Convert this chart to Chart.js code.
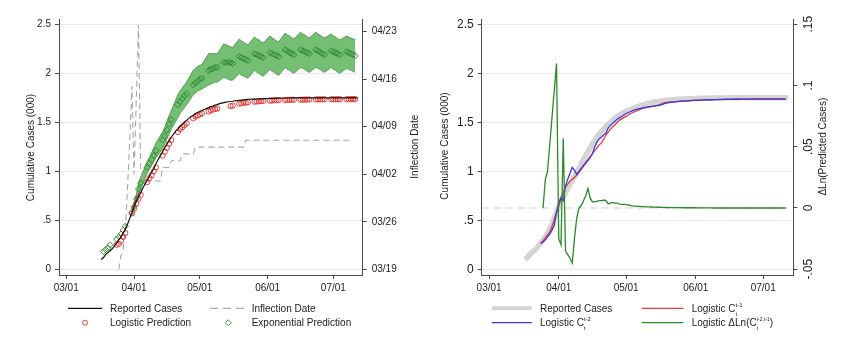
<!DOCTYPE html>
<html>
<head>
<meta charset="utf-8">
<script src="https://cdn.jsdelivr.net/npm/chart.js@4.4.1/dist/chart.umd.min.js"></script>
<style>
html, body { margin: 0; padding: 0; background: #fff; }
body { width: 850px; height: 354px; position: relative; overflow: hidden; }
.panel { position: absolute; top: 0; width: 425px; height: 300px; }
#left { left: 0; }
#right { left: 425px; }
#keys { position: absolute; left: 0; top: 0; }
.lg { position: absolute; font: 10px "Liberation Sans", Arial, sans-serif; color: #222; line-height: 12px; white-space: nowrap; }
.ss { display: inline-block; position: relative; font-size: 6px; line-height: 6px; vertical-align: top; }
.ss .u { display: block; margin-top: -1px; }
.ss .d { position: absolute; left: 0; top: 8px; }
.ss.small { font-size: 5px; }
</style>
</head>
<body>
<div class="panel" id="left"><canvas id="c1" width="425" height="300"></canvas></div>
<div class="panel" id="right"><canvas id="c2" width="425" height="300"></canvas></div>

<svg id="keys" width="850" height="354">
  <line x1="68" y1="308.3" x2="102" y2="308.3" stroke="#111" stroke-width="1.2"/>
  <line x1="210" y1="308.3" x2="245" y2="308.3" stroke="#aaa" stroke-width="1.2" stroke-dasharray="8 5"/>
  <circle cx="85" cy="322.7" r="2.5" fill="none" stroke="#e8302c" stroke-width="0.9"/>
  <polygon points="228.3,319.7 231.3,322.7 228.3,325.7 225.3,322.7" fill="none" stroke="#2f8f2f" stroke-width="0.9"/>
  <line x1="491.7" y1="308.3" x2="531.7" y2="308.3" stroke="#d4d4d4" stroke-width="4"/>
  <line x1="641.7" y1="308.3" x2="683.3" y2="308.3" stroke="#e03a3a" stroke-width="1.3"/>
  <line x1="491.7" y1="322.7" x2="531.7" y2="322.7" stroke="#3a3ae0" stroke-width="1.3"/>
  <line x1="641.7" y1="322.7" x2="683.3" y2="322.7" stroke="#2a8a2a" stroke-width="1.3"/>
</svg>

<div class="lg" style="left:110px;top:302.7px">Reported Cases</div>
<div class="lg" style="left:251.7px;top:302.7px">Inflection Date</div>
<div class="lg" style="left:110px;top:317px">Logistic Prediction</div>
<div class="lg" style="left:251.7px;top:317px">Exponential Prediction</div>

<div class="lg" style="left:540px;top:302.7px">Reported Cases</div>
<div class="lg" style="left:691.7px;top:302.7px">Logistic C<span class="ss"><span class="u">t-1</span><span class="d">t</span></span></div>
<div class="lg" style="left:540px;top:317px">Logistic C<span class="ss"><span class="u">t-2</span><span class="d">t</span></span></div>
<div class="lg" style="left:691.7px;top:317px">Logistic &Delta;Ln(C<span class="ss small"><span class="u">t-2,t-1</span><span class="d">t</span></span>)</div>

<script>
// días desde el 1 de marzo de 2020
const days = [
  16, 17, 18, 19, 20, 21, 22,
  23, 24, 25, 26, 27, 28, 29,
  30, 31, 32, 33, 34, 35, 36,
  37, 38, 39, 40, 41, 42, 43,
  44, 45, 46, 47, 48, 49, 50,
  51, 52, 53, 54, 55, 56, 57,
  58, 59, 60, 61, 62, 63, 64,
  65, 66, 67, 68, 69, 70, 71,
  72, 73, 74, 75, 76, 77, 78,
  79, 80, 81, 82, 83, 84, 85,
  86, 87, 88, 89, 90, 91, 92,
  93, 94, 95, 96, 97, 98, 99,
  100, 101, 102, 103, 104, 105, 106,
  107, 108, 109, 110, 111, 112, 113,
  114, 115, 116, 117, 118, 119, 120,
  121, 122, 123, 124, 125, 126, 127,
  128, 129, 130, 131, 132, 133
];

// casos acumulados reportados (miles)
const reported = [
  0.10, 0.12, 0.15, 0.17, 0.19, 0.21, 0.24,
  0.27, 0.30, 0.33, 0.37, 0.41, 0.46, 0.52,
  0.58, 0.64, 0.70, 0.74, 0.78, 0.83, 0.87,
  0.91, 0.95, 0.99, 1.03, 1.08, 1.12, 1.16,
  1.20, 1.24, 1.28, 1.31, 1.35, 1.38, 1.41,
  1.43, 1.46, 1.48, 1.50, 1.52, 1.54, 1.56,
  1.57, 1.59, 1.60, 1.61, 1.62, 1.63, 1.64,
  1.65, 1.66, 1.665, 1.675, 1.68, 1.69, 1.695,
  1.70, 1.705, 1.71, 1.712, 1.715, 1.72, 1.722,
  1.725, 1.727, 1.729, 1.731, 1.733, 1.735, 1.736,
  1.737, 1.738, 1.739, 1.74, 1.741, 1.742, 1.743,
  1.744, 1.745, 1.745, 1.746, 1.746, 1.747, 1.747,
  1.748, 1.748, 1.748, 1.749, 1.749, 1.749, 1.749,
  1.75, 1.75, 1.75, 1.75, 1.75, 1.75, 1.75,
  1.75, 1.75, 1.75, 1.75, 1.75, 1.75, 1.75,
  1.75, 1.75, 1.75, 1.75, 1.75, 1.75, 1.75,
  1.75, 1.75, 1.75, 1.75, 1.75, 1.75
];

const logisticPred = [
  null, null, null, null, null, null, null,
  0.25, 0.26, 0.29, 0.33, 0.37, null, null,
  0.57, 0.62, 0.67, 0.72, 0.76, null, null,
  0.89, 0.93, 0.96, 1.00, 1.04, null, null,
  1.16, 1.20, 1.24, 1.28, 1.32, null, null,
  1.40, 1.43, 1.45, 1.47, 1.49, null, null,
  1.54, 1.56, 1.57, 1.58, 1.59, null, null,
  1.61, 1.62, 1.63, 1.635, 1.64, null, null,
  null, null, null, 1.665, 1.67, null, null,
  1.69, 1.695, 1.70, 1.70, 1.705, null, null,
  1.71, 1.712, 1.714, 1.716, 1.718, null, null,
  1.72, 1.722, 1.724, 1.725, 1.726, null, null,
  1.727, 1.728, 1.729, 1.73, 1.73, null, null,
  1.731, 1.731, 1.732, 1.732, 1.733, null, null,
  1.733, 1.734, 1.734, 1.734, 1.735, null, null,
  1.735, 1.735, 1.735, 1.736, 1.736, null, null,
  1.736, 1.736, 1.737, 1.737, 1.737, null
];

const expPred = [
  null, 0.18, 0.20, 0.22, 0.25, null, null,
  0.31, 0.33, 0.36, 0.40, 0.44, null, null,
  0.58, 0.64, 0.72, 0.82, 0.88, null, null,
  1.04, 1.08, 1.12, 1.16, 1.21, null, null,
  1.32, 1.36, 1.42, 1.48, 1.53, null, null,
  1.68, 1.71, 1.74, 1.77, 1.79, null, null,
  1.88, 1.90, 1.92, 1.94, 1.95, null, null,
  2.03, 2.04, 2.05, 2.06, 2.06, null, null,
  2.11, 2.11, 2.11, 2.11, 2.10, null, null,
  2.17, 2.16, 2.15, 2.14, 2.13, null, null,
  2.20, 2.19, 2.18, 2.17, 2.16, null, null,
  2.21, 2.20, 2.19, 2.18, 2.17, null, null,
  2.24, 2.23, 2.21, 2.20, 2.19, null, null,
  2.24, 2.23, 2.22, 2.21, 2.20, null, null,
  2.24, 2.23, 2.215, 2.20, 2.19, null, null,
  2.23, 2.22, 2.21, 2.20, 2.19, null, null,
  2.22, 2.21, 2.20, 2.19, 2.18, null
];

const expHi = [
  null, null, null, null, null, null, null,
  null, null, null, null, null, null, null,
  0.62, 0.68, 0.76, 0.88, 0.94, null, null,
  1.10, 1.14, 1.19, 1.24, 1.29, null, null,
  1.40, 1.45, 1.51, 1.57, 1.62, null, null,
  1.78, 1.82, 1.85, 1.88, 1.91, null, null,
  2.03, 2.05, 2.07, 2.08, 2.09, null, null,
  2.20, 2.20, 2.20, 2.20, 2.20, null, null,
  2.30, 2.29, 2.28, 2.27, 2.26, null, null,
  2.35, 2.33, 2.32, 2.30, 2.29, null, null,
  2.37, 2.35, 2.34, 2.32, 2.31, null, null,
  2.38, 2.36, 2.35, 2.33, 2.32, null, null,
  2.41, 2.39, 2.38, 2.36, 2.35, null, null,
  2.42, 2.40, 2.39, 2.37, 2.36, null, null,
  2.42, 2.40, 2.39, 2.37, 2.36, null, null,
  2.40, 2.38, 2.37, 2.35, 2.34, null, null,
  2.38, 2.37, 2.36, 2.35, 2.34, null
];

const expLo = [
  null, null, null, null, null, null, null,
  null, null, null, null, null, null, null,
  0.56, 0.60, 0.68, 0.76, 0.82, null, null,
  0.98, 1.02, 1.06, 1.10, 1.14, null, null,
  1.23, 1.28, 1.33, 1.38, 1.43, null, null,
  1.55, 1.59, 1.62, 1.65, 1.68, null, null,
  1.78, 1.80, 1.82, 1.83, 1.84, null, null,
  1.88, 1.89, 1.90, 1.91, 1.91, null, null,
  1.96, 1.95, 1.94, 1.93, 1.93, null, null,
  2.00, 1.98, 1.97, 1.96, 1.95, null, null,
  2.03, 2.01, 2.00, 1.98, 1.97, null, null,
  2.04, 2.02, 2.01, 1.99, 1.98, null, null,
  2.06, 2.04, 2.03, 2.01, 2.00, null, null,
  2.06, 2.05, 2.04, 2.02, 2.01, null, null,
  2.06, 2.05, 2.04, 2.02, 2.01, null, null,
  2.06, 2.04, 2.03, 2.01, 2.00, null, null,
  2.05, 2.04, 2.03, 2.02, 2.01, null
];

// fecha de inflexión (días desde el 1 de marzo)
const inflection = [
  null, null, null, null, null, null, null,
  null, 18, 20, 21, 24, 30, 37,
  45, 32, 43, 54, 33, 31, 31,
  31, 31, 31, 31, 31, 31, 31,
  33, 33, 33, 33, 34, 34, 34,
  34, 34, 35, 35, 35, 35, 35,
  35, 36, 36, 36, 36, 36, 36,
  36, 36, 36, 36, 36, 36, 36,
  36, 36, 36, 36, 36, 36, 36,
  36, 36, 36, 37, 37, 37, 37,
  37, 37, 37, 37, 37, 37, 37,
  37, 37, 37, 37, 37, 37, 37,
  37, 37, 37, 37, 37, 37, 37,
  37, 37, 37, 37, 37, 37, 37,
  37, 37, 37, 37, 37, 37, 37,
  37, 37, 37, 37, 37, 37, 37,
  37, 37, 37, 37, null, null
];

// panel derecho
const logisticC1 = [
  null, null, null, null, null, null, null,
  0.265, 0.29, 0.32, 0.35, 0.38, 0.44, 0.51,
  0.58, 0.64, 0.72, 0.79, 0.84, 0.87, 0.90,
  0.92, 0.94, 0.96, 0.99, 1.02, 1.05, 1.08,
  1.11, 1.14, 1.18, 1.21, 1.24, 1.27, 1.29,
  1.33, 1.37, 1.40, 1.43, 1.455, 1.475, 1.50,
  1.52, 1.535, 1.55, 1.56, 1.575, 1.59, 1.60,
  1.61, 1.62, 1.63, 1.64, 1.645, 1.65, 1.655,
  1.66, 1.665, 1.67, 1.675, 1.68, 1.69, 1.70,
  1.703, 1.705, 1.707, 1.709, 1.711, 1.713, 1.715,
  1.717, 1.719, 1.72, 1.722, 1.723, 1.724, 1.725,
  1.726, 1.727, 1.728, 1.729, 1.73, 1.73, 1.731,
  1.732, 1.732, 1.733, 1.733, 1.734, 1.734, 1.735,
  1.735, 1.735, 1.736, 1.736, 1.736, 1.737, 1.737,
  1.737, 1.737, 1.737, 1.738, 1.738, 1.738, 1.738,
  1.738, 1.738, 1.738, 1.738, 1.738, 1.738, 1.738,
  1.738, 1.738, 1.738, 1.738, 1.738, null
];

const logisticC2 = [
  null, null, null, null, null, null, null,
  0.265, 0.28, 0.30, 0.33, 0.36, 0.40, 0.45,
  0.58, 0.68, 0.73, 0.70, 0.85, 0.92, 0.98,
  1.04, 1.01, 0.97, 1.00, 1.03, 1.06, 1.09,
  1.12, 1.15, 1.18, 1.25, 1.30, 1.33, 1.35,
  1.37, 1.39, 1.44, 1.47, 1.49, 1.51, 1.53,
  1.545, 1.56, 1.575, 1.59, 1.60, 1.61, 1.62,
  1.63, 1.635, 1.64, 1.645, 1.65, 1.655, 1.66,
  1.66, 1.665, 1.665, 1.67, 1.675, 1.68, 1.69,
  1.695, 1.70, 1.703, 1.706, 1.709, 1.711, 1.713,
  1.715, 1.717, 1.719, 1.72, 1.722, 1.723, 1.724,
  1.725, 1.726, 1.727, 1.728, 1.729, 1.73, 1.73,
  1.731, 1.731, 1.732, 1.732, 1.733, 1.733, 1.734,
  1.734, 1.734, 1.735, 1.735, 1.735, 1.736, 1.736,
  1.736, 1.736, 1.736, 1.736, 1.736, 1.736, 1.736,
  1.737, 1.737, 1.737, 1.737, 1.737, 1.737, 1.737,
  1.737, 1.737, 1.737, 1.737, 1.737, null
];

const dlnPred = [
  null, null, null, null, null, null, null,
  null, 0.0, 0.023, 0.030, 0.052, 0.074, 0.096,
  0.118, -0.025, -0.030, 0.057, -0.035, -0.038, -0.041,
  -0.045, -0.025, -0.008, 0.0, 0.002, 0.006, 0.010,
  0.016, 0.008, 0.005, 0.005, 0.0055, 0.006, 0.006,
  0.0065, 0.006, 0.0035, 0.004, 0.0045, 0.004, 0.004,
  0.0032, 0.003, 0.003, 0.0028, 0.0025, 0.002, 0.0015,
  0.0015, 0.0014, 0.0013, 0.0012, 0.0011, 0.001, 0.0009,
  0.0008, 0.0007, 0.0007, 0.0006, 0.0006, 0.0005, 0.0005,
  0.0004, 0.0004, 0.0003, 0.0003, 0.0003, 0.0003, 0.0003,
  0.0002, 0.0002, 0.0002, 0.0002, 0.0002, 0.0002, 0.0002,
  0.0001, 0.0001, 0.0001, 0.0001, 0.0001, 0.0001, 0.0001,
  0, 0, 0, 0, 0, 0, 0,
  0, 0, 0, 0, 0, 0, 0,
  0, 0, 0, 0, 0, 0, 0,
  0, 0, 0, 0, 0, 0, 0,
  0, 0, 0, 0, 0, null
];

// marcas de los ejes
const xTickDays = [0, 31, 61, 92, 122];
const xTickLabels = ["03/01", "04/01", "05/01", "06/01", "07/01"];
const yTicks = [0, 0.5, 1, 1.5, 2, 2.5];
const yTickLabels = ["0", ".5", "1", "1.5", "2", "2.5"];
const inflTicks = [18, 25, 32, 39, 46, 53];
const inflTickLabels = ["03/19", "03/26", "04/02", "04/09", "04/16", "04/23"];
const dlnTicks = [-0.05, 0, 0.05, 0.1, 0.15];
const dlnTickLabels = ["-.05", "0", ".05", ".1", ".15"];

const X_MIN = -3.3;
const X_MAX = 135.4;
const FONT = '"Liberation Sans", Arial, sans-serif';
const AXIS = '#4a4a4a';
const GRID = '#ebebeb';

Chart.defaults.font.family = FONT;
Chart.defaults.color = '#222';

function pts(arr) {
    return days.map((d, i) => ({ x: d, y: arr[i] })).filter(p => p.y !== null);
}

const axisTitles = {
    id: 'axisTitles',
    afterDraw(chart, args, opts) {
        const ctx = chart.ctx;
        ctx.save();
        ctx.font = '10px ' + FONT;
        ctx.fillStyle = '#222';
        ctx.textAlign = 'center';
        ctx.textBaseline = 'middle';
        opts.items.forEach(t => {
            ctx.save();
            ctx.translate(t.x, t.y);
            ctx.rotate(-Math.PI / 2);
            ctx.fillText(t.text, 0, 0);
            ctx.restore();
        });
        ctx.restore();
    }
};

function xScale() {
    return {
        type: 'linear', min: X_MIN, max: X_MAX,
        afterBuildTicks: s => { s.ticks = xTickDays.map(v => ({ value: v })); },
        ticks: { callback: (v, i) => xTickLabels[i], font: { size: 10 }, padding: 3, maxRotation: 0, autoSkip: false },
        grid: { drawOnChartArea: false, tickLength: 4, tickColor: AXIS },
        border: { color: AXIS, width: 1 },
        afterFit: s => { s.height = 25; }
    };
}

function yScale(size, width) {
    return {
        position: 'left', min: -0.058, max: 2.554,
        afterBuildTicks: s => { s.ticks = yTicks.map(v => ({ value: v })); },
        ticks: { callback: (v, i) => yTickLabels[i], font: { size: size }, padding: 4, autoSkip: false },
        grid: { color: GRID, lineWidth: 1, tickLength: 4, tickColor: AXIS },
        border: { color: AXIS, width: 1 },
        afterFit: s => { s.width = width; }
    };
}

const common = {
    responsive: false,
    animation: false,
    events: [],
    layout: { padding: { top: 19, left: 0, right: 0, bottom: 0 } },
    plugins: { legend: { display: false }, tooltip: { enabled: false } }
};

// panel izquierdo
new Chart(document.getElementById('c1'), {
    type: 'line',
    data: {
        datasets: [
            { label: 'Reported Cases', data: pts(reported), borderColor: '#111', borderWidth: 1.2, pointRadius: 0, yAxisID: 'y' },
            { label: 'Logistic Prediction', data: pts(logisticPred), showLine: false, pointStyle: 'circle', pointRadius: 2.6,
              pointBorderColor: '#ea2a26', pointBackgroundColor: 'rgba(0,0,0,0)', pointBorderWidth: 0.9, yAxisID: 'y' },
            { label: 'Exponential Prediction', data: pts(expPred), showLine: false, pointStyle: 'rectRot', pointRadius: 3,
              pointBorderColor: '#2a862a', pointBackgroundColor: 'rgba(0,0,0,0)', pointBorderWidth: 0.9, yAxisID: 'y' },
            { label: 'Inflection Date', data: pts(inflection), borderColor: '#a8a8a8', borderWidth: 1.1, borderDash: [6, 4],
              pointRadius: 0, yAxisID: 'y2' },
            { label: 'upper', data: pts(expHi), borderColor: '#3a8a3a', borderWidth: 0.8, pointRadius: 0,
              fill: '+1', backgroundColor: 'rgba(70,170,70,0.75)', yAxisID: 'y' },
            { label: 'lower', data: pts(expLo), borderColor: '#3a8a3a', borderWidth: 0.8, pointRadius: 0, fill: false, yAxisID: 'y' }
        ]
    },
    options: Object.assign({}, common, {
        plugins: Object.assign({}, common.plugins, {
            axisTitles: { items: [
                { text: 'Cumulative Cases (000)', x: 31, y: 147.5 },
                { text: 'Inflection Date', x: 415, y: 146.7 }
            ] }
        }),
        scales: {
            x: xScale(),
            y: yScale(10, 59),
            y2: {
                position: 'right', min: 17.16, max: 54.87,
                afterBuildTicks: s => { s.ticks = inflTicks.map(v => ({ value: v })); },
                ticks: { callback: (v, i) => inflTickLabels[i], font: { size: 10 }, padding: 5, autoSkip: false },
                grid: { drawOnChartArea: false, tickLength: 4, tickColor: AXIS },
                border: { color: AXIS, width: 1 },
                afterFit: s => { s.width = 62.3; }
            }
        }
    }),
    plugins: [axisTitles]
});

// panel derecho
new Chart(document.getElementById('c2'), {
    type: 'line',
    data: {
        datasets: [
            { label: 'Logistic ΔLn', data: pts(dlnPred), borderColor: '#2a8a2a', borderWidth: 1.3, pointRadius: 0, yAxisID: 'y2' },
            { label: 'Logistic C t-2', data: pts(logisticC2), borderColor: '#3a3ae0', borderWidth: 1.3, pointRadius: 0, yAxisID: 'y' },
            { label: 'Logistic C t-1', data: pts(logisticC1), borderColor: '#e03a3a', borderWidth: 1.3, pointRadius: 0, yAxisID: 'y' },
            { label: 'Reported Cases', data: pts(reported), borderColor: '#d4d4d4', borderWidth: 5.5, pointRadius: 0,
              borderCapStyle: 'butt', yAxisID: 'y' },
            { label: 'cero', data: [{ x: X_MIN, y: 0 }, { x: X_MAX, y: 0 }], borderColor: '#d0d0d0', borderWidth: 1.2,
              borderDash: [7, 5], pointRadius: 0, yAxisID: 'y2' }
        ]
    },
    options: Object.assign({}, common, {
        plugins: Object.assign({}, common.plugins, {
            axisTitles: { items: [
                { text: 'Cumulative Cases (000)', x: 20.7, y: 146 },
                { text: 'ΔLn(Predicted Cases)', x: 398.3, y: 146.7 }
            ] }
        }),
        scales: {
            x: xScale(),
            y: yScale(12, 56.7),
            y2: {
                position: 'right', min: -0.0547, max: 0.1543,
                afterBuildTicks: s => { s.ticks = dlnTicks.map(v => ({ value: v })); },
                ticks: { callback: (v, i) => dlnTickLabels[i], font: { size: 12 }, padding: 1,
                         minRotation: 90, maxRotation: 90, crossAlign: 'center', autoSkip: false },
                grid: { drawOnChartArea: false, tickLength: 4, tickColor: AXIS },
                border: { color: AXIS, width: 1 },
                afterFit: s => { s.width = 56.7; }
            }
        }
    }),
    plugins: [axisTitles]
});
</script>
</body>
</html>
